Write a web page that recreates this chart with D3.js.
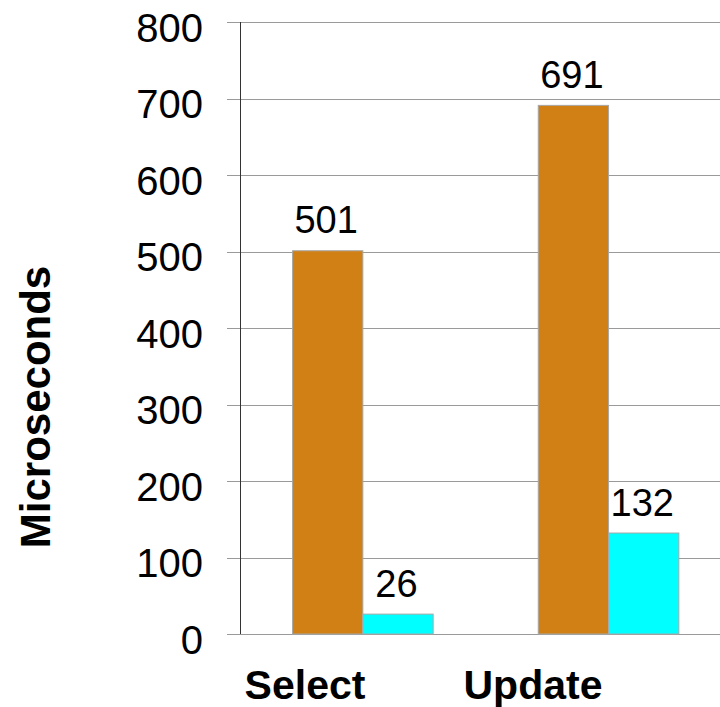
<!DOCTYPE html>
<html>
<head>
<meta charset="utf-8">
<script src="https://cdn.jsdelivr.net/npm/d3@7"></script>
<style>
  html, body { margin: 0; padding: 0; background: #fff; }
  svg { display: block; }
  text { font-family: "Liberation Sans", Arial, sans-serif; fill: #000; }
</style>
</head>
<body>
<svg id="chart" width="720" height="707"></svg>
<script>
const categories = ["Select", "Update"];
const seriesNames = ["A", "B"];
const seriesA = [501, 691];
const seriesB = [26, 132];
const yTicks = [0, 100, 200, 300, 400, 500, 600, 700, 800];
const yTitle = "Microseconds";
const colors = ["#D08015", "#00FFFF"];

const svg = d3.select("#chart");
const W = 720, H = 707;

const plotLeft = 240, plotRight = 731.4, plotTop = 22, plotBottom = 634;

const y = d3.scaleLinear().domain([0, 800]).range([plotBottom, plotTop]);
const x0 = d3.scaleBand().domain(categories).range([plotLeft, plotRight]).padding(0);
const bw = x0.bandwidth();
const barW = 70.3;
const x1 = d3.scaleBand().domain(seriesNames).range([bw / 2 - barW, bw / 2 + barW]).padding(0);
const labelX = d3.scalePoint().domain(categories).range([305, 533]);

// gridlines
svg.append("g").selectAll("line").data(yTicks).join("line")
  .attr("x1", 227).attr("x2", W)
  .attr("y1", d => Math.round(y(d)) + 0.5).attr("y2", d => Math.round(y(d)) + 0.5)
  .attr("stroke", "#9a9a9a").attr("stroke-width", 1);

// y axis line
svg.append("line")
  .attr("x1", plotLeft + 0.5).attr("x2", plotLeft + 0.5)
  .attr("y1", y(800)).attr("y2", y(0))
  .attr("stroke", "#333").attr("stroke-width", 1);

// tick labels
svg.append("g").selectAll("text").data(yTicks).join("text")
  .attr("x", 203).attr("y", d => y(d) + 19.5)
  .attr("text-anchor", "end")
  .style("font-size", "40px")
  .text(d => d);

// bars
const data = categories.map((c, i) => ({ cat: c, vals: [
  { s: "A", v: seriesA[i], c: colors[0] },
  { s: "B", v: seriesB[i], c: colors[1] }
]}));

const groups = svg.append("g").selectAll("g").data(data).join("g")
  .attr("transform", d => `translate(${x0(d.cat)},0)`);

groups.selectAll("rect").data(d => d.vals).join("rect")
  .attr("x", d => x1(d.s))
  .attr("y", d => y(d.v))
  .attr("width", x1.bandwidth())
  .attr("height", d => y(0) - y(d.v))
  .attr("fill", d => d.c)
  .attr("stroke", "#a8a8a8")
  .attr("stroke-width", 1);

groups.selectAll("text").data(d => d.vals).join("text")
  .attr("x", d => x1(d.s) + x1.bandwidth() / 2 - 1.5)
  .attr("y", d => y(d.v) - 17.5)
  .attr("text-anchor", "middle")
  .style("font-size", "38px")
  .text(d => d.v);

// category labels
svg.append("g").selectAll("text").data(categories).join("text")
  .attr("x", d => labelX(d)).attr("y", 699)
  .attr("text-anchor", "middle")
  .style("font-size", "41px").style("font-weight", "bold")
  .text(d => d);

// y title
svg.append("text")
  .attr("transform", "translate(50,407) rotate(-90)")
  .attr("text-anchor", "middle")
  .style("font-size", "42px").style("font-weight", "bold")
  .text(yTitle);
</script>
</body>
</html>
